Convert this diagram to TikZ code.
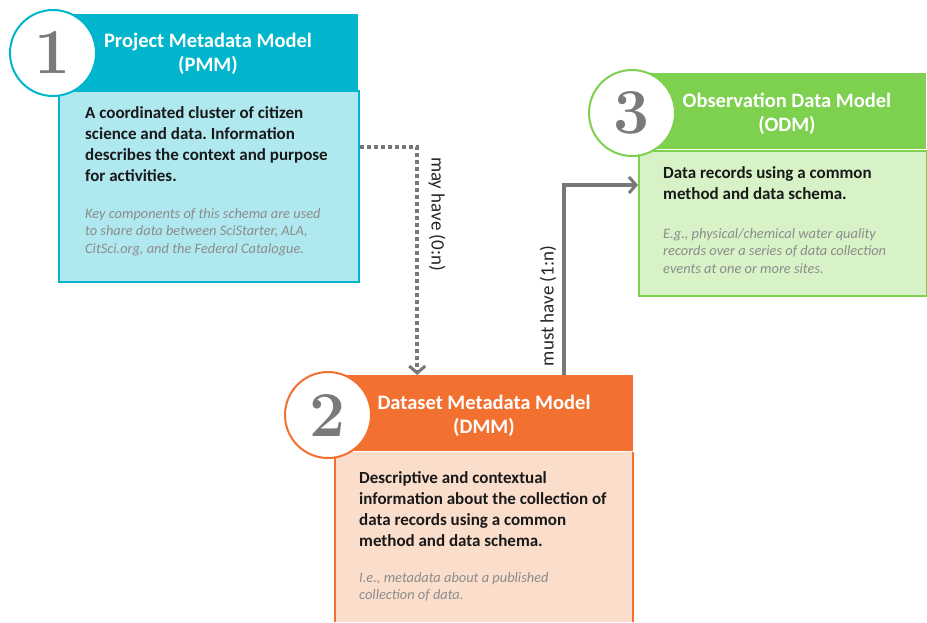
\documentclass[tikz,border=0pt]{standalone}
\usepackage{fontspec}
\setmainfont{Carlito}
\newfontfamily\numfont{Latin Modern Roman}
\usetikzlibrary{arrows.meta}
\frenchspacing
\definecolor{tealH}{HTML}{00B5CC}
\definecolor{tealL}{HTML}{B0E8EF}
\definecolor{greenH}{HTML}{7ED04F}
\definecolor{greenL}{HTML}{D6F2C6}
\definecolor{orangeH}{HTML}{F37130}
\definecolor{orangeL}{HTML}{FBDDCB}
\definecolor{arrgray}{HTML}{787878}
\definecolor{numgray}{HTML}{7A7A7A}
\definecolor{itgray}{HTML}{8C8C8C}
\tikzset{
  hdr/.style={rectangle, anchor=north west, inner sep=0, minimum width=300pt, minimum height=76pt},
  bodybox/.style={rectangle, anchor=north west, inner sep=0, minimum width=300pt, line width=2pt},
  numcirc/.style={circle, fill=white, line width=2pt, minimum size=86pt, inner sep=0,
    font=\numfont\bfseries\fontsize{64}{64}\selectfont, text=numgray},
  ttl/.style={align=center, text=white, font=\bfseries\fontsize{20.5}{24}\selectfont, inner sep=0},
  maintxt/.style={align=left, anchor=north west, inner sep=0, font=\bfseries\fontsize{17}{21}\selectfont\frenchspacing, text=black!90},
  ittxt/.style={align=left, anchor=north west, inner sep=0, font=\itshape\fontsize{14.4}{17.5}\selectfont\frenchspacing, text=itgray},
  lbl/.style={font=\fontsize{19}{19}\selectfont, text=black!85, inner sep=0},
  conn/.style={draw=arrgray, line width=4pt, -{Straight Barb[length=7pt,width=16pt,line width=3pt]}},
}
\begin{document}
\begin{tikzpicture}[x=1pt,y=-1pt]
\useasboundingbox (0,0) rectangle (927,622);
% PMM
\node[hdr, fill=tealH] (pmmh) at (58,14) {};
\node[bodybox, fill=tealL, draw=tealH, minimum height=191pt] (pmmb) at (58,90) {};
\node[numcirc, draw=tealH] (c1) at (53,53) {1};
\node[ttl] (t1) at (208,54) {Project Metadata Model\\(PMM)};
\node[maintxt] (m1) at (85,106) {A coordinated cluster of citizen\\science and data. Information\\describes the context and purpose\\for activities.};
\node[ittxt] (i1) at (85,208) {Key components of this schema are used\\to share data between SciStarter, ALA,\\CitSci.org, and the Federal Catalogue.};
% ODM
\node[hdr, fill=greenH, minimum width=288pt] (odmh) at (638,73) {};
\node[bodybox, fill=greenL, draw=greenH, minimum width=288pt, minimum height=145pt] (odmb) at (638,150) {};
\node[numcirc, draw=greenH] (c3) at (632,113) {3};
\node[ttl] (t3) at (787,114) {Observation Data Model\\(ODM)};
\node[maintxt] (m3) at (663,166) {Data records using a common\\method and data schema.};
\node[ittxt] (i3) at (663,228) {E.g., physical/chemical water quality\\records over a series of data collection\\events at one or more sites.};
% DMM
\node[hdr, fill=orangeH, minimum width=298pt] (dmmh) at (335,375) {};
\fill[orangeL] (335,452) rectangle (633,622);
\draw[orangeH, line width=2pt] (335,452) -- (335,622) (633,452) -- (633,622);
\node[numcirc, draw=orangeH] (c2) at (328,415) {2};
\node[ttl] (t2) at (484,416) {Dataset Metadata Model\\(DMM)};
\node[maintxt] (m2) at (359,471) {Descriptive and contextual\\information about the collection of\\data records using a common\\method and data schema.};
\node[ittxt] (i2) at (359,572) {I.e., metadata about a published\\collection of data.};
% connectors
\draw[conn, dash pattern=on 4pt off 3pt] ([yshift=-57pt]pmmb.north east) -| ([xshift=-67pt]dmmh.north);
\draw[conn] ([xshift=80pt]dmmh.north) |- ([yshift=-35pt]odmb.north west);
\node[lbl, rotate=-90] (l1) at (437,214) {may have (0:n)};
\node[lbl, rotate=90] (l2) at (548,306) {must have (1:n)};
\end{tikzpicture}
\end{document}
